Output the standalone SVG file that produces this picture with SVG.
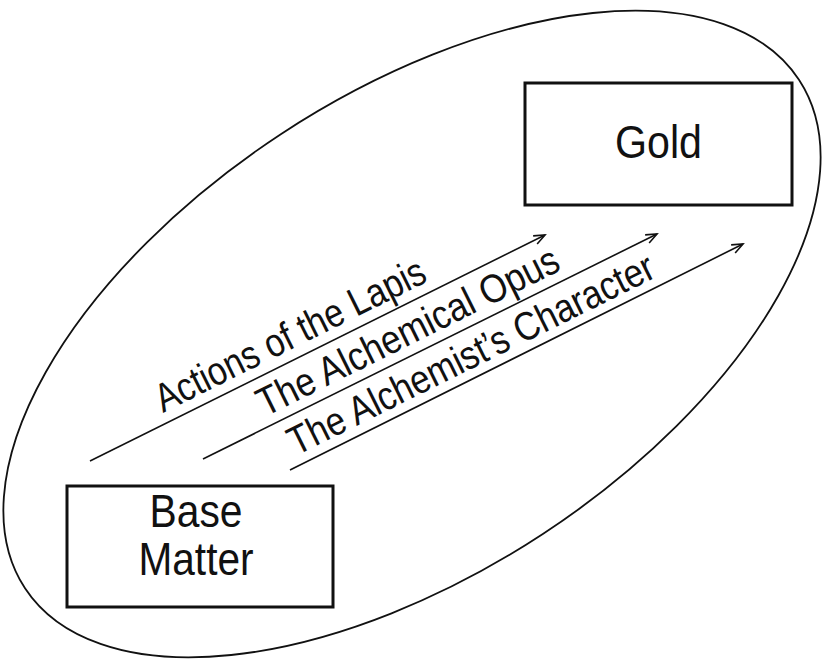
<svg xmlns="http://www.w3.org/2000/svg" width="827" height="659" viewBox="0 0 827 659">
<style>
  .box { fill: #fff; stroke: #111; stroke-width: 3; }
  .node-text { font-family: "Liberation Sans", Arial, sans-serif; font-size: 47px; fill: #111; text-anchor: middle; }
  .label { font-family: "Liberation Sans", Arial, sans-serif; font-size: 40px; fill: #111; }
  .arrow { stroke: #111; stroke-width: 1.6; fill: none; marker-end: url(#head); }
  .outline { fill: none; stroke: #111; stroke-width: 1.8; }
</style>
<defs>
  <marker id="head" markerUnits="userSpaceOnUse" markerWidth="14" markerHeight="12" refX="0" refY="0" viewBox="-12 -6 14 12" orient="auto" overflow="visible">
    <path d="M-11,-4.5 L0,0 L-11,4.5" fill="none" stroke="#111" stroke-width="1.6"/>
  </marker>
</defs>
<rect width="827" height="659" fill="#fff"/>
<g id="boundary">
  <ellipse class="outline" cx="412" cy="334" rx="463" ry="239" transform="rotate(-33.3 412 334)"/>
</g>
<g id="node-gold">
  <rect class="box" x="525" y="83" width="267" height="122"/>
  <text class="node-text" x="658.5" y="158" textLength="87" lengthAdjust="spacingAndGlyphs">Gold</text>
</g>
<g id="node-base-matter">
  <rect class="box" x="67" y="486" width="266" height="121"/>
  <text class="node-text" x="196" y="527" textLength="93" lengthAdjust="spacingAndGlyphs">Base</text>
  <text class="node-text" x="196" y="575" textLength="115" lengthAdjust="spacingAndGlyphs">Matter</text>
</g>
<g id="connectors">
  <g id="edge-lapis">
    <line class="arrow" x1="90" y1="461" x2="545" y2="235"/>
    <text class="label" x="163" y="413" transform="rotate(-26.4 163 413)" textLength="297" lengthAdjust="spacingAndGlyphs">Actions of the Lapis</text>
  </g>
  <g id="edge-opus">
    <line class="arrow" x1="203" y1="459" x2="657" y2="234"/>
    <text class="label" x="265" y="417" transform="rotate(-26.4 265 417)" textLength="332" lengthAdjust="spacingAndGlyphs">The Alchemical Opus</text>
  </g>
  <g id="edge-character">
    <line class="arrow" x1="290" y1="470" x2="743" y2="244"/>
    <text class="label" x="296" y="456" transform="rotate(-26.4 296 456)" textLength="404" lengthAdjust="spacingAndGlyphs">The Alchemist’s Character</text>
  </g>
</g>
</svg>
